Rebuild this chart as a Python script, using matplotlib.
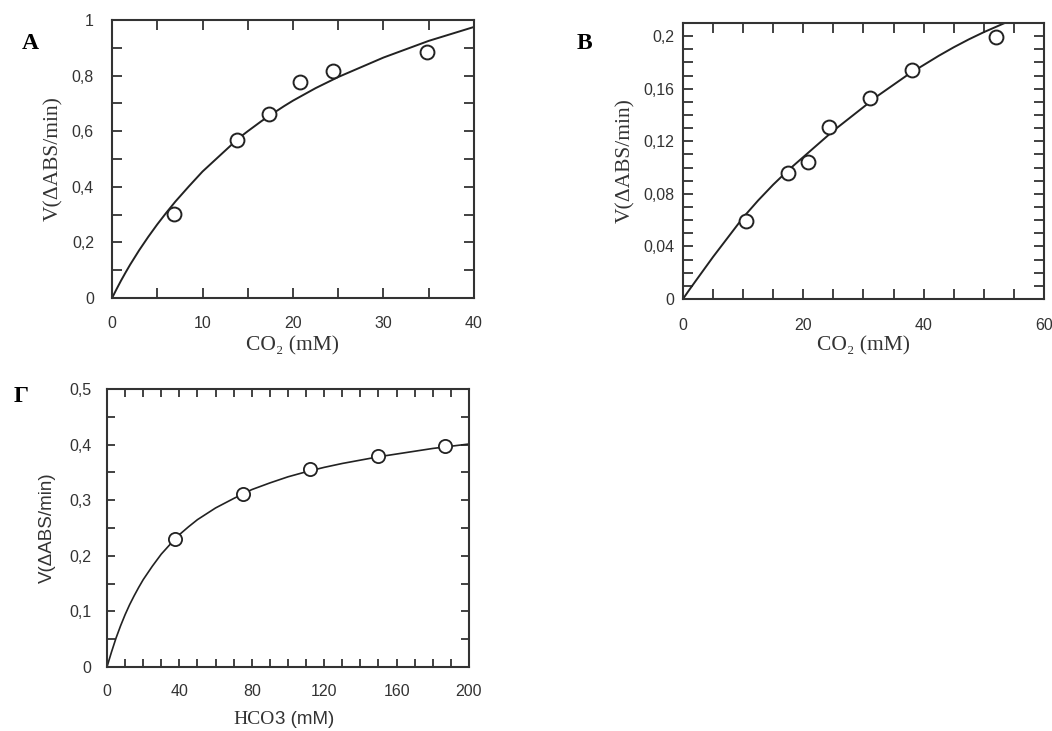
import numpy as np
import matplotlib
matplotlib.use('Agg')
from matplotlib import pyplot as plt
from matplotlib.ticker import MultipleLocator, FuncFormatter

# Panel A: CO2
a_x = [6.9, 13.8, 17.3, 20.8, 24.4, 34.8]
a_y = [0.304, 0.568, 0.661, 0.778, 0.816, 0.884]
a_fit_x = [0, 0.5, 1, 1.5, 2, 3, 4, 5, 6, 7, 8.5, 10, 11.5, 12.5, 14, 15, 16.5, 17.5,
           19, 20, 22.5, 25, 27.5, 30, 32.5, 35, 37.5, 40]
a_fit_y = [0, 0.032, 0.063, 0.092, 0.12, 0.172, 0.22, 0.265, 0.307, 0.347, 0.402,
           0.455, 0.5, 0.53, 0.575, 0.6, 0.636, 0.658, 0.69, 0.71, 0.755,
           0.795, 0.83, 0.865, 0.895, 0.925, 0.95, 0.975]

# Panel B: CO2
b_x = [10.5, 17.4, 20.8, 24.2, 31.1, 38.1, 52.0]
b_y = [0.059, 0.096, 0.104, 0.131, 0.153, 0.174, 0.199]
b_fit_x = [0, 1, 2, 3.5, 5, 7.5, 10, 12.5, 15, 17.5, 20, 22.5, 25, 27.5, 30, 32.5, 35,
           37.5, 40, 42.5, 45, 47.5, 50, 52.5, 55]
b_fit_y = [0, 0.0066, 0.013, 0.0225, 0.032, 0.047, 0.062, 0.075, 0.087, 0.098,
           0.108, 0.118, 0.128, 0.137, 0.146, 0.155, 0.163, 0.171, 0.178, 0.185,
           0.1915, 0.1975, 0.203, 0.208, 0.213]

# Panel Γ: HCO3
g_x = [37.4, 75.2, 112.3, 149.5, 187.0]
g_y = [0.230, 0.311, 0.356, 0.380, 0.397]
g_fit_x = [0, 1, 2.5, 5, 7.5, 10, 12.5, 15, 17.5, 20, 25, 30, 35, 40, 45, 50, 60, 70,
           80, 90, 100, 110, 120, 130, 140, 150, 160, 170, 180, 190, 200]
g_fit_y = [0, 0.011, 0.027, 0.052, 0.074, 0.094, 0.112, 0.128, 0.143, 0.157, 0.181,
           0.203, 0.221, 0.238, 0.252, 0.265, 0.286, 0.303, 0.319, 0.331, 0.342,
           0.351, 0.359, 0.366, 0.372, 0.378, 0.383, 0.388, 0.393, 0.397, 0.401]

serif = 'Liberation Serif'
sans = 'Liberation Sans'
ink = '#333333'
comma = FuncFormatter(lambda v, p: ('%g' % round(v, 4)).replace('.', ','))

fig = plt.figure(figsize=(10.52, 7.31), dpi=100)


def style(ax, xlim, ylim, xmaj, xmin, ymaj, ymin, xpad, ypad, ticklen=7):
    ax.set_xlim(*xlim)
    ax.set_ylim(*ylim)
    ax.xaxis.set_major_locator(MultipleLocator(xmaj))
    ax.xaxis.set_minor_locator(MultipleLocator(xmin))
    ax.yaxis.set_major_locator(MultipleLocator(ymaj))
    ax.yaxis.set_minor_locator(MultipleLocator(ymin))
    ax.xaxis.set_major_formatter(comma)
    ax.yaxis.set_major_formatter(comma)
    ax.tick_params(which='both', direction='in', top=True, right=True,
                   length=ticklen, width=1.3, color=ink)
    ax.tick_params(which='major', labelsize=11.5, labelcolor=ink)
    ax.tick_params(axis='x', which='major', pad=xpad)
    ax.tick_params(axis='y', which='major', pad=ypad)
    for lab in ax.get_xticklabels() + ax.get_yticklabels():
        lab.set_family(sans)
    for s in ax.spines.values():
        s.set_linewidth(1.5)
        s.set_color(ink)


# A
ax = fig.add_axes([0.1065, 0.5923, 0.344, 0.3803])
ax.plot(a_fit_x, a_fit_y, color='#222222', lw=1.4)
ax.plot(a_x, a_y, 'o', mfc='white', mec='#222222', mew=1.4, ms=10)
style(ax, (0, 40), (0, 1), 10, 5, 0.2, 0.1, xpad=13, ypad=13)
ax.set_xlabel('CO₂ (mM)', family=serif, fontsize=15.5, color=ink, labelpad=4)
ax.set_ylabel('V(ΔABS/min)', family=serif, fontsize=15.5, color=ink, labelpad=6)

# B
ax = fig.add_axes([0.6492, 0.591, 0.3432, 0.3776])
ax.plot(b_fit_x, b_fit_y, color='#222222', lw=1.4)
ax.plot(b_x, b_y, 'o', mfc='white', mec='#222222', mew=1.4, ms=10)
style(ax, (0, 60), (0, 0.21), 20, 5, 0.04, 0.01, xpad=14, ypad=6)
ax.set_xlabel('CO₂ (mM)', family=serif, fontsize=15.5, color=ink, labelpad=2)
ax.set_ylabel('V(ΔABS/min)', family=serif, fontsize=15.5, color=ink, labelpad=6)

# Γ
ax = fig.add_axes([0.1017, 0.0876, 0.3441, 0.3803])
ax.plot(g_fit_x, g_fit_y, color='#222222', lw=1.2)
ax.plot(g_x, g_y, 'o', mfc='white', mec='#222222', mew=1.3, ms=9.5)
style(ax, (0, 200), (0, 0.5), 40, 10, 0.1, 0.05, xpad=12, ypad=11, ticklen=6)
ax.text(0.464, -0.19, 'HCO', family=serif, fontsize=14, color=ink,
        ha='right', va='center', transform=ax.transAxes)
ax.text(0.464, -0.19, '3 (mM)', family=sans, fontsize=13.5, color=ink,
        ha='left', va='center', transform=ax.transAxes)
ax.set_ylabel('V(ΔABS/min)', family=sans, fontsize=13.5, color=ink, labelpad=10)

fig.text(0.021, 0.94, 'A', family=serif, fontsize=17, fontweight='bold', va='center')
fig.text(0.548, 0.94, 'B', family=serif, fontsize=17, fontweight='bold', va='center')
fig.text(0.013, 0.457, 'Γ', family=serif, fontsize=17, fontweight='bold', va='center')

fig.savefig('out.png', dpi=100)
